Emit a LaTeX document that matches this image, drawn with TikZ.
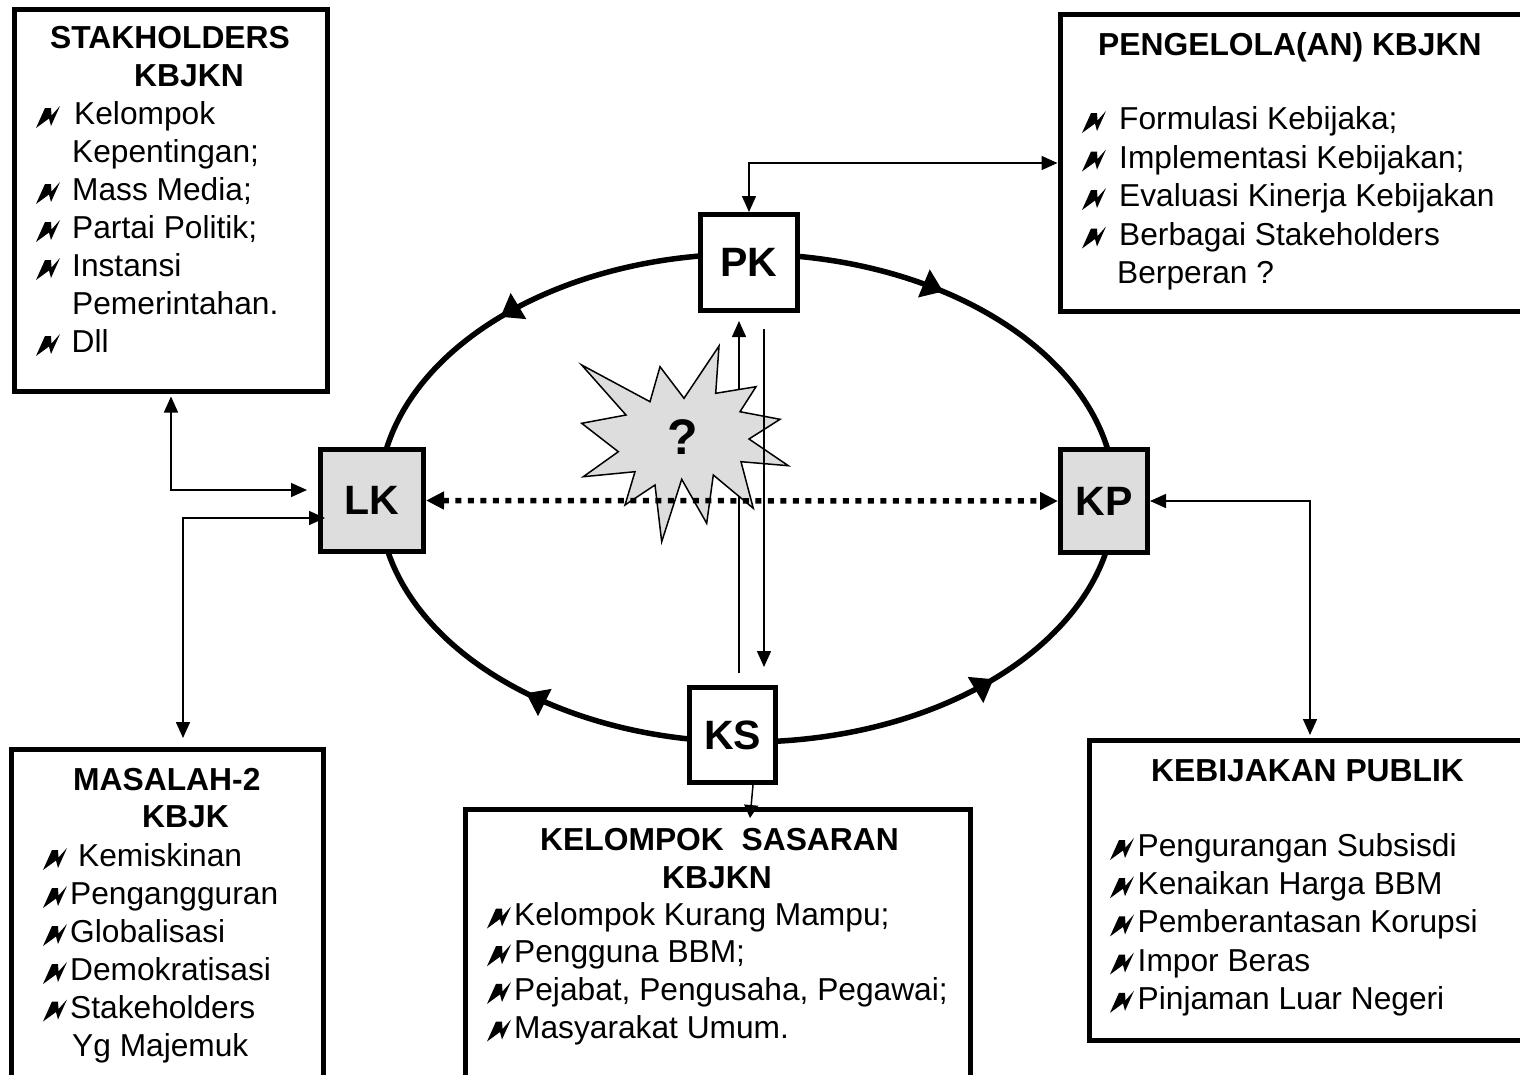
\documentclass[tikz,border=0pt]{standalone}
\usepackage{fontspec}
\setmainfont{Liberation Sans}
\usetikzlibrary{arrows.meta,decorations.markings,calc}
\pgfdeclarelayer{bg}
\pgfsetlayers{bg,main}
\definecolor{boxgray}{HTML}{DDDDDD}
\begin{document}
\begin{tikzpicture}[x=1pt,y=-1pt,
  frame/.style={draw,line width=5pt,fill=white,inner sep=0pt},
  sq/.style={draw,line width=5pt,fill=white,inner sep=0pt,font=\bfseries\fontsize{41}{41}\selectfont},
  gsq/.style={sq,fill=boxgray},
  ttl/.style={inner sep=0pt,anchor=base west,font=\bfseries\fontsize{31.8}{37}\selectfont},
  txt/.style={inner sep=0pt,anchor=base west,font=\fontsize{31.7}{38}\selectfont},
  conn/.style={line width=1.5pt,{Triangle[length=16pt,width=14pt]}-{Triangle[length=16pt,width=14pt]}},
  thinarrow/.style={line width=1.5pt,-{Triangle[length=16pt,width=14pt]}},
  smallarrow/.style={line width=1.5pt,-{Triangle[length=13pt,width=14pt]}},
  dotarrow/.style={line width=5.5pt,dash pattern=on 6pt off 6.5pt,{Triangle[length=18pt,width=17pt]}-{Triangle[length=18pt,width=17pt]}},
  ring/.style={line width=5.5pt},
  mk/.style={postaction={decorate,decoration={markings,mark=at position #1 with {\arrow{Triangle[length=21pt,width=29pt]}}}}},
  bolt/.pic={\fill (0,0) -- (9,-20) -- (15,-20) -- (15.5,-12.5) -- (24,-22) -- (15,-2) -- (13,-9.5) -- cycle;}
]
\useasboundingbox (0,0) rectangle (1520,1074);
\begin{pgfonlayer}{bg}
\fill[white] (0,0) rectangle (1520,1074);
\end{pgfonlayer}

% text boxes
\node[frame,minimum width=313pt,minimum height=381.5pt] (SH) at (171,200.25) {};
\node[frame,minimum width=465pt,minimum height=297pt] (PG) at (1292.5,163) {};
\node[frame,minimum width=312pt,minimum height=330.5pt] (MS) at (167.5,914.75) {};
\node[frame,minimum width=505pt,minimum height=270.5pt] (KSB) at (718,944.75) {};
\node[frame,minimum width=436pt,minimum height=299.5pt] (KB) at (1307,890.25) {};

% cycle boxes
\node[sq,minimum width=97pt,minimum height=96pt] (PK) at (749,262.5) {PK};
\node[gsq,minimum width=103pt,minimum height=102pt] (LK) at (372,500.5) {LK};
\node[gsq,minimum width=87pt,minimum height=103pt] (KP) at (1104,501) {KP};
\node[sq,minimum width=86pt,minimum height=95pt] (KS) at (732.5,735) {KS};

% ellipse
\coordinate (ec) at (747,498);
\begin{pgfonlayer}{bg}
\draw[ring,mk=0.53] ($(ec)+(0,-244)$) arc[start angle=-90,end angle=-180,x radius=368,y radius=244];
\draw[ring,mk=0.414] ($(ec)+(0,-244)$) arc[start angle=-90,end angle=0,x radius=368,y radius=244];
\draw[ring,mk=0.47] ($(ec)+(0,244)$) arc[start angle=90,end angle=180,x radius=368,y radius=244];
\draw[ring,mk=0.53] ($(ec)+(0,244)$) arc[start angle=90,end angle=0,x radius=368,y radius=244];
\end{pgfonlayer}

% STAKHOLDERS
\node[ttl] (sh1) at (50,48.5) {STAKHOLDERS};
\node[ttl] (sh2) at (134,86.5) {KBJKN};
\pic at (36,128) {bolt}; \node[txt] (sh3) at (74,124.5) {Kelompok};
\node[txt] (sh4) at (72,162.5) {Kepentingan;};
\pic at (36,204) {bolt}; \node[txt] (sh5) at (72,200.5) {Mass Media;};
\pic at (36,242) {bolt}; \node[txt] (sh6) at (72,238.5) {Partai Politik;};
\pic at (36,280) {bolt}; \node[txt] (sh7) at (72,276.5) {Instansi};
\node[txt] (sh8) at (72,314.5) {Pemerintahan.};
\pic at (36,356) {bolt}; \node[txt] (sh9) at (71.5,352.5) {Dll};

% PENGELOLA
\node[ttl] (pg1) at (1098,55) {PENGELOLA(AN) KBJKN};
\pic at (1082,133) {bolt}; \node[txt] (pg2) at (1119,129.5) {Formulasi Kebijaka;};
\pic at (1082,171.5) {bolt}; \node[txt] (pg3) at (1119,168) {Implementasi Kebijakan;};
\pic at (1082,210) {bolt}; \node[txt] (pg4) at (1119,206.5) {Evaluasi Kinerja Kebijakan};
\pic at (1082,248.5) {bolt}; \node[txt] (pg5) at (1119,245) {Berbagai Stakeholders};
\node[txt] (pg6) at (1117,283.5) {Berperan ?};

% MASALAH
\node[ttl] (ms1) at (73,790) {MASALAH-2};
\node[ttl] (ms2) at (142,827.5) {KBJK};
\pic at (43,870) {bolt}; \node[txt] (ms3) at (78,866.5) {Kemiskinan};
\pic at (43,908) {bolt}; \node[txt] (ms4) at (70,904.5) {Pengangguran};
\pic at (43,946) {bolt}; \node[txt] (ms5) at (70,942.5) {Globalisasi};
\pic at (43,984) {bolt}; \node[txt] (ms6) at (70,980.5) {Demokratisasi};
\pic at (43,1021.5) {bolt}; \node[txt] (ms7) at (70,1018) {Stakeholders};
\node[txt] (ms8) at (72,1056) {Yg Majemuk};

% KELOMPOK SASARAN
\node[ttl] (ks1) at (540,850) {KELOMPOK~~SASARAN};
\node[ttl] (ks2) at (662,888) {KBJKN};
\pic at (487,928.5) {bolt}; \node[txt] (ks3) at (514,925) {Kelompok Kurang Mampu;};
\pic at (487,966.2) {bolt}; \node[txt] (ks4) at (514,962.7) {Pengguna BBM;};
\pic at (487,1003.9) {bolt}; \node[txt] (ks5) at (514,1000.4) {Pejabat, Pengusaha, Pegawai;};
\pic at (487,1041.5) {bolt}; \node[txt] (ks6) at (514,1038) {Masyarakat Umum.};

% KEBIJAKAN PUBLIK
\node[ttl] (kb1) at (1151,781.5) {KEBIJAKAN PUBLIK};
\pic at (1110,860) {bolt}; \node[txt] (kb2) at (1137.5,856.5) {Pengurangan Subsisdi};
\pic at (1110,898.2) {bolt}; \node[txt] (kb3) at (1137.5,894.7) {Kenaikan Harga BBM};
\pic at (1110,936.4) {bolt}; \node[txt] (kb4) at (1137.5,932.9) {Pemberantasan Korupsi};
\pic at (1110,974.5) {bolt}; \node[txt] (kb5) at (1137.5,971) {Impor Beras};
\pic at (1110,1012.8) {bolt}; \node[txt] (kb6) at (1137.5,1009.3) {Pinjaman Luar Negeri};

% connectors to outer boxes
\draw[conn] ($(SH.south)+(0,3)$) |- ($(LK.west)+(-11,-10.5)$);
\draw[conn] ($(LK.west)+(7,17.5)$) -| ($(MS.north)+(15.5,-9)$);
\draw[conn] (PK.north) |- (PG.west);
\draw[conn] (KP.east) -| ($(KB.north)+(3,-3)$);
\draw[smallarrow] ($(KS.south)+(20.5,0)$) -- ($(KSB.north)+(32,11)$);

% centre: arrows, burst, dotted link
\draw[thinarrow] ($(KS.north)+(6.5,-12)$) -- ($(PK.south)+(-10,8)$);
\filldraw[fill=boxgray,draw=black,line width=1.5pt,line join=miter]
  (581.7,365) -- (650,401.7) -- (660,366.7) -- (684,398.3) -- (719,346) -- (715.7,393.3)
  -- (756,386.7) -- (740,411.7) -- (780,419.3) -- (749,439) -- (788.3,465.7) -- (741,461.7)
  -- (753.3,508.3) -- (713.3,475) -- (706.7,523.3) -- (681.7,479.3) -- (661.7,541.7) -- (655,485)
  -- (625,505) -- (635,471.7) -- (583.3,476.7) -- (618.3,451.7) -- (581.7,423.3) -- (626,415) -- cycle;
\node[inner sep=0pt,font=\bfseries\fontsize{50}{50}\selectfont] (q) at (683,437.5) {?};
\draw[thinarrow] ($(PK.south)+(15,16)$) -- ($(KS.north)+(31.5,-18)$);
\draw[dotarrow] (LK.east) -- (KP.west);
\end{tikzpicture}
\end{document}
